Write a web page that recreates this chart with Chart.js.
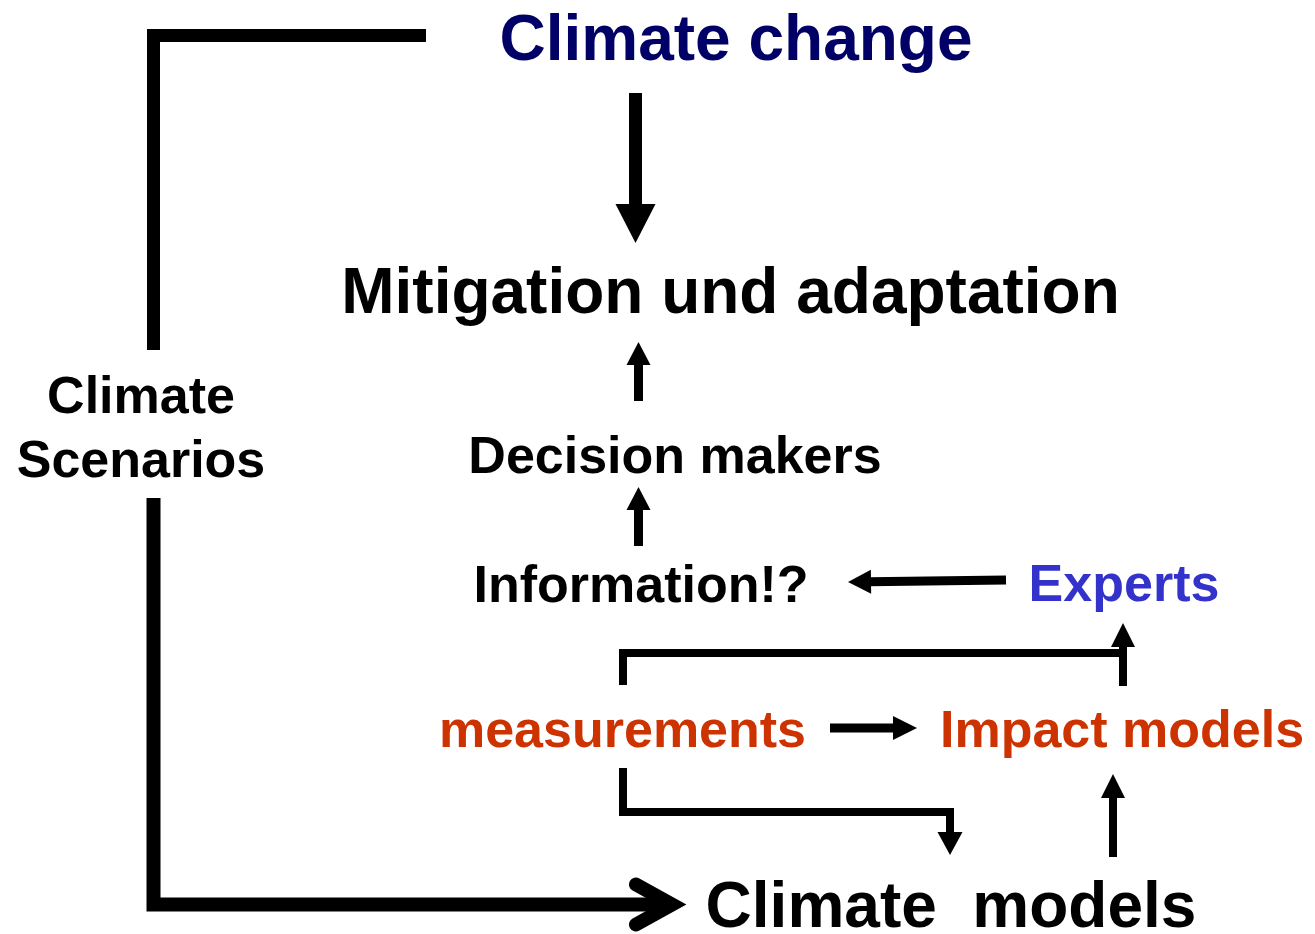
<!DOCTYPE html>
<html>
<head>
<meta charset="utf-8">
<title>Climate change – scenarios, models, decisions</title>
<script src="https://cdn.jsdelivr.net/npm/chart.js@4.4.1/dist/chart.umd.min.js"></script>
<style>
  html, body { margin: 0; padding: 0; background: #fff; }
  #wrap { width: 1315px; height: 934px; }
</style>
</head>
<body>
<div id="wrap"><canvas id="diagram"></canvas></div>
<script>
// captions of the boxes (no boxes drawn, just text)
const nodeLabels = [
  'Climate change',
  'Mitigation und adaptation',
  'Decision makers',
  'Information!?',
  'Experts',
  'measurements',
  'Impact models',
  'Climate  models',
  'Climate\nScenarios'
];

// connector paths in diagram units, last point is where the arrow points to
const scenarioTop       = [[426, 35.5], [153.5, 35.5], [153.5, 350]];
const scenarioBottom    = [[153.5, 498], [153.5, 904.5], [672, 904.5]];
const changeToAction    = [[635.5, 93], [635.5, 243]];
const deciderToAction   = [[638.5, 401], [638.5, 342]];
const infoToDecider     = [[638.5, 546], [638.5, 487]];
const expertsToInfo     = [[1006, 580], [848, 582]];
const measureBracket    = [[623, 685], [623, 653], [1127, 653]];
const impactToExperts   = [[1123, 686], [1123, 623]];
const measureToImpact   = [[830, 728], [917, 728]];
const measureToModels   = [[623, 768], [623, 812], [950, 812], [950, 855]];
const modelsToImpact    = [[1113, 857], [1113, 774]];

// ---- layout / styling (kept apart from the values above) ----
const W = 1315, H = 934;
const FONT = '"Liberation Sans", Arial, Helvetica, sans-serif';

const labelX     = [736, 730.5, 675, 641, 1124, 622.5, 1122, 951, 141];
const labelY     = [60, 313, 473, 602, 601, 747, 747, 927, 413];
const labelSize  = [64, 64, 52, 52, 52, 52, 52, 64, 52];
const labelColor = ['#000066', '#000', '#000', '#000', '#3333cc', '#cc3300', '#cc3300', '#000', '#000'];

// head: null | 'fill' | 'open'; len/half = arrow head length and half width
const connectors = [
  { path: scenarioTop,     width: 13, head: null },
  { path: scenarioBottom,  width: 14, head: 'open', len: 36, half: 20 },
  { path: changeToAction,  width: 13, head: 'fill', len: 39, half: 20 },
  { path: deciderToAction, width: 9,  head: 'fill', len: 23, half: 12 },
  { path: infoToDecider,   width: 9,  head: 'fill', len: 23, half: 12 },
  { path: expertsToInfo,   width: 9,  head: 'fill', len: 23, half: 12 },
  { path: measureBracket,  width: 8,  head: null },
  { path: impactToExperts, width: 8,  head: 'fill', len: 24, half: 12 },
  { path: measureToImpact, width: 9,  head: 'fill', len: 24, half: 12 },
  { path: measureToModels, width: 8,  head: 'fill', len: 23, half: 12.5 },
  { path: modelsToImpact,  width: 8,  head: 'fill', len: 24, half: 12 }
];

function lineData(c) {
  const pts = c.path.map(p => ({ x: p[0], y: p[1] }));
  if (c.head === 'fill') {
    // stop the shaft just inside the head so it does not poke past the tip
    const a = pts[pts.length - 2], b = pts[pts.length - 1];
    const d = Math.hypot(b.x - a.x, b.y - a.y);
    const k = (c.len - 2) / d;
    pts[pts.length - 1] = { x: b.x - (b.x - a.x) * k, y: b.y - (b.y - a.y) * k };
  }
  return pts;
}

const arrowsAndText = {
  id: 'arrowsAndText',
  afterDatasetsDraw(chart) {
    const { ctx, scales: { x, y } } = chart;
    ctx.save();

    connectors.forEach(c => {
      if (!c.head) return;
      const n = c.path.length;
      const tx = x.getPixelForValue(c.path[n - 1][0]), ty = y.getPixelForValue(c.path[n - 1][1]);
      const px = x.getPixelForValue(c.path[n - 2][0]), py = y.getPixelForValue(c.path[n - 2][1]);
      const d = Math.hypot(tx - px, ty - py);
      const ux = (tx - px) / d, uy = (ty - py) / d;
      const bx = tx - ux * c.len, by = ty - uy * c.len;
      ctx.beginPath();
      ctx.moveTo(bx - uy * c.half, by + ux * c.half);
      ctx.lineTo(tx, ty);
      ctx.lineTo(bx + uy * c.half, by - ux * c.half);
      if (c.head === 'fill') {
        ctx.closePath();
        ctx.fillStyle = '#000';
        ctx.fill();
      } else {
        ctx.lineWidth = c.width;
        ctx.lineJoin = 'miter';
        ctx.lineCap = 'round';
        ctx.strokeStyle = '#000';
        ctx.stroke();
      }
    });

    ctx.textAlign = 'center';
    ctx.textBaseline = 'alphabetic';
    nodeLabels.forEach((txt, i) => {
      ctx.font = 'bold ' + labelSize[i] + 'px ' + FONT;
      ctx.fillStyle = labelColor[i];
      txt.split('\n').forEach((line, j) => {
        ctx.fillText(line, x.getPixelForValue(labelX[i]), y.getPixelForValue(labelY[i] + j * 64));
      });
    });
    ctx.restore();
  }
};

new Chart(document.getElementById('diagram'), {
  type: 'scatter',
  data: {
    datasets: connectors.map(c => ({
      data: lineData(c),
      showLine: true,
      borderColor: '#000',
      borderWidth: c.width,
      borderJoinStyle: 'miter',
      borderCapStyle: 'butt',
      pointRadius: 0,
      pointHoverRadius: 0,
      tension: 0,
      fill: false
    }))
  },
  options: {
    responsive: true,
    maintainAspectRatio: false,
    animation: false,
    layout: { padding: 0 },
    events: [],
    plugins: { legend: { display: false }, tooltip: { enabled: false } },
    scales: {
      x: { type: 'linear', min: 0, max: W, display: false },
      y: { type: 'linear', min: 0, max: H, reverse: true, display: false }
    }
  },
  plugins: [arrowsAndText]
});
</script>
</body>
</html>
